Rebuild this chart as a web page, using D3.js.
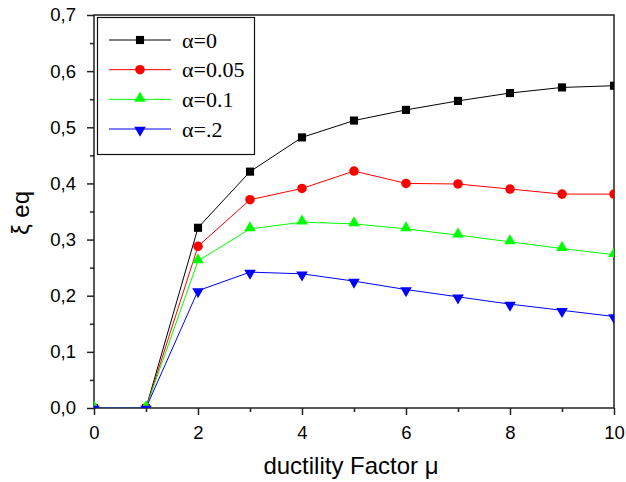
<!DOCTYPE html>
<html>
<head>
<meta charset="utf-8">
<script src="https://cdn.jsdelivr.net/npm/d3@7"></script>
<style>
  html, body { margin: 0; padding: 0; background: #fff; }
</style>
</head>
<body>
<svg id="chart" width="626" height="482"></svg>
<script>
const ductility = [0, 1, 2, 3, 4, 5, 6, 7, 8, 9, 10]
const alpha0 = [0, 0, 0.321, 0.421, 0.482, 0.512, 0.531, 0.547, 0.561, 0.571, 0.574]
const alpha005 = [0, 0, 0.288, 0.371, 0.391, 0.422, 0.400, 0.399, 0.390, 0.381, 0.381]
const alpha01 = [0, 0, 0.262, 0.319, 0.331, 0.328, 0.319, 0.308, 0.296, 0.284, 0.273]
const alpha02 = [0, 0, 0.209, 0.242, 0.239, 0.226, 0.211, 0.198, 0.185, 0.174, 0.163]
const seriesNames = ['α=0', 'α=0.05', 'α=0.1', 'α=.2']
const xTicks = [0, 2, 4, 6, 8, 10]
const yTicks = [0, 0.1, 0.2, 0.3, 0.4, 0.5, 0.6, 0.7]

const series = [
  { name: seriesNames[0], values: alpha0, color: '#000000', symbol: d3.symbolSquare, size: 66 },
  { name: seriesNames[1], values: alpha005, color: '#ff0000', symbol: d3.symbolCircle, size: 72 },
  { name: seriesNames[2], values: alpha01, color: '#00ff00', symbol: d3.symbolTriangle, size: 58, dy: -1 },
  { name: seriesNames[3], values: alpha02, color: '#0000ff', symbol: d3.symbolTriangle, size: 58, flip: true, dy: 1 }
]

const margin = { left: 94, right: 12, top: 15, bottom: 74 }
const width = 626
const height = 482

const svg = d3.select('#chart')
const x = d3.scaleLinear().domain([0, 10]).range([margin.left, width - margin.right])
const y = d3.scaleLinear().domain([0, 0.7]).range([height - margin.bottom, margin.top])

svg.append('defs').append('clipPath').attr('id', 'plot-clip')
  .append('rect')
  .attr('x', x(0)).attr('y', y(0.7))
  .attr('width', x(10) - x(0)).attr('height', y(0) - y(0.7))

const axisFont = 'Liberation Sans, Arial, Helvetica, sans-serif'
const fmt = d => d3.format('.1f')(d).replace('.', ',')

// minor ticks
const xAxisMinor = d3.axisBottom(x).tickValues(d3.range(1, 10, 2)).tickSize(4).tickFormat('')
const yAxisMinor = d3.axisLeft(y).tickValues(d3.range(0.05, 0.7, 0.1)).tickSize(4).tickFormat('')

const gxMinor = svg.append('g').attr('transform', `translate(0,${y(0)})`).call(xAxisMinor)
const gyMinor = svg.append('g').attr('transform', `translate(${x(0)},0)`).call(yAxisMinor)

const gx = svg.append('g').attr('transform', `translate(0,${y(0)})`)
  .call(d3.axisBottom(x).tickValues(xTicks).tickSize(7).tickPadding(11).tickFormat(d3.format('d')))
const gy = svg.append('g').attr('transform', `translate(${x(0)},0)`)
  .call(d3.axisLeft(y).tickValues(yTicks).tickSize(7).tickPadding(11).tickFormat(fmt))

for (const g of [gx, gy, gxMinor, gyMinor]) {
  g.select('.domain').remove()
  g.selectAll('.tick line').attr('stroke', '#222').attr('stroke-width', 1.5)
  g.selectAll('text').attr('font-family', axisFont).attr('font-size', 18.5).attr('fill', '#000')
}
gx.selectAll('text').attr('dy', '0.72em')

// frame
svg.append('rect')
  .attr('x', x(0)).attr('y', y(0.7))
  .attr('width', x(10) - x(0)).attr('height', y(0) - y(0.7))
  .attr('fill', 'none').attr('stroke', '#222').attr('stroke-width', 1.5)

const plot = svg.append('g').attr('clip-path', 'url(#plot-clip)')
const line = d3.line().x((d, i) => x(ductility[i])).y(d => y(d))

function marker(sel, s) {
  sel.attr('d', d3.symbol().type(s.symbol).size(s.size))
    .attr('fill', s.color)
}

series.forEach(s => {
  plot.append('path')
    .datum(s.values)
    .attr('d', line)
    .attr('fill', 'none')
    .attr('stroke', s.color)
    .attr('stroke-width', 1)
})
series.forEach(s => {
  plot.selectAll(null)
    .data(s.values)
    .join('path')
    .call(marker, s)
    .attr('transform', (d, i) => `translate(${x(ductility[i])},${y(d) + (s.dy || 0)})${s.flip ? ' rotate(180)' : ''}`)
})

// legend
const legend = svg.append('g')
legend.append('rect')
  .attr('x', 97.5).attr('y', 17.5).attr('width', 157).attr('height', 137)
  .attr('fill', '#fff').attr('stroke', '#111').attr('stroke-width', 1.2)

const legendY = d3.scalePoint().domain(seriesNames).range([40, 129])
series.forEach(s => {
  const ly = legendY(s.name)
  legend.append('line')
    .attr('x1', 109).attr('x2', 171).attr('y1', ly).attr('y2', ly)
    .attr('stroke', s.color).attr('stroke-width', 1)
  legend.append('path')
    .call(marker, s)
    .attr('transform', `translate(140,${ly + (s.dy || 0)})${s.flip ? ' rotate(180)' : ''}`)
  legend.append('text')
    .attr('x', 182).attr('y', ly).attr('dy', '0.35em')
    .attr('font-family', 'Liberation Serif, Times New Roman, serif')
    .attr('font-size', 22)
    .attr('fill', '#000')
    .text(s.name)
})

// axis titles
svg.append('text')
  .attr('x', 351).attr('y', 474)
  .attr('text-anchor', 'middle')
  .attr('font-family', axisFont).attr('font-size', 24).attr('fill', '#000')
  .text('ductility Factor μ')

svg.append('text')
  .attr('transform', `translate(29,213) rotate(-90)`)
  .attr('text-anchor', 'middle')
  .attr('font-family', axisFont).attr('font-size', 24).attr('fill', '#000')
  .text('ξ eq')
</script>
</body>
</html>
